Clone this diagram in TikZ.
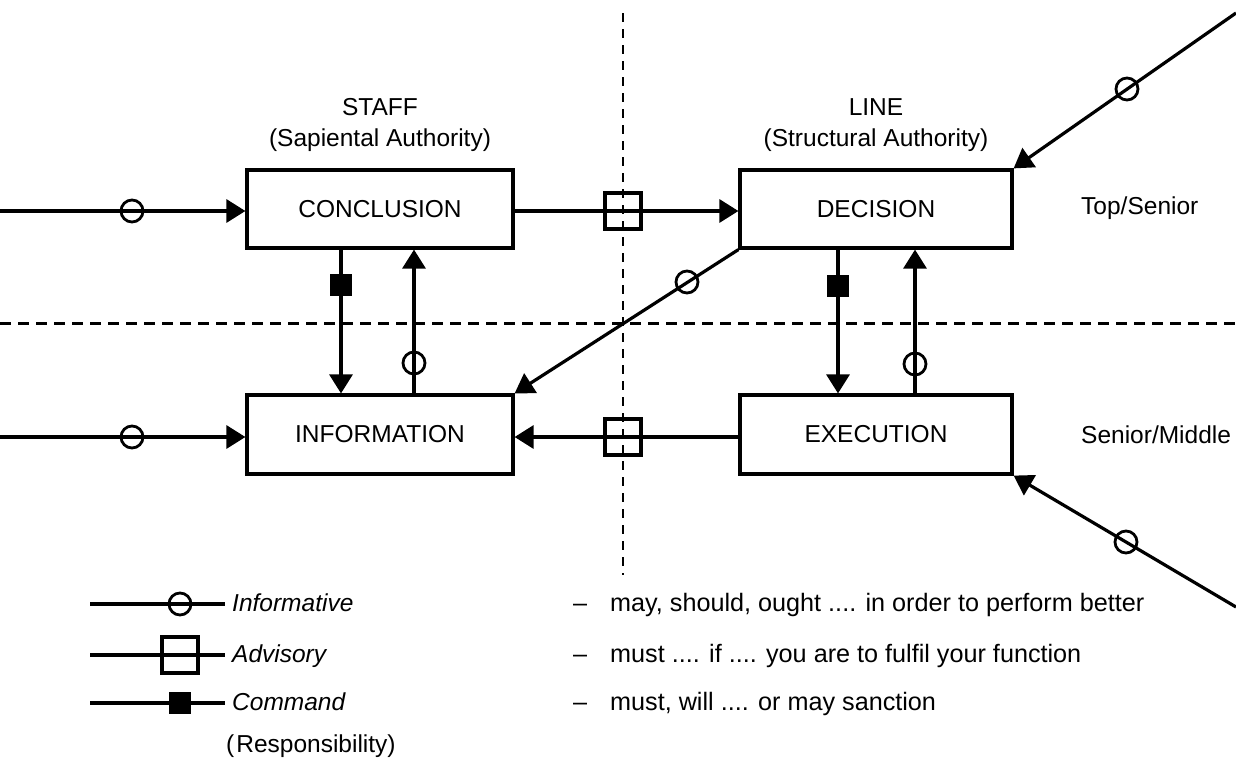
\documentclass[tikz,border=0pt]{standalone}
\usepackage{fontspec}
\setmainfont{Liberation Sans}
\usetikzlibrary{arrows.meta}
\begin{document}
\begin{tikzpicture}[x=1pt,y=-1pt,
  txt/.style={font=\fontsize{24.5}{29}\selectfont,inner sep=0pt},
  desc/.style={font=\fontsize{25.2}{30}\selectfont,inner sep=0pt},
  box/.style={txt,draw,line width=3.2pt,minimum height=78pt},
  conn/.style={line width=3.2pt},
  arr/.style={conn,-{Triangle[length=19pt,width=23pt]}},
  infc/.style={draw,circle,line width=2.8pt,minimum size=22pt,inner sep=0pt},
  advsq/.style={draw,rectangle,line width=3.4pt,minimum size=36pt,inner sep=0pt},
  cmdsq/.style={draw,fill=black,rectangle,line width=1pt,minimum size=21pt,inner sep=0pt},
  dashln/.style={line width=3pt,dash pattern=on 11pt off 7pt},
  vdashln/.style={line width=2.8pt,dash pattern=on 9pt off 7pt}]
\useasboundingbox (0,0) rectangle (1236,771);
% grid lines
\coordinate (vt) at (623,13);
\coordinate (vb) at (623,575);
\coordinate (hl) at (0,323);
\coordinate (hr) at (1236,323);
\draw[vdashln] (vt) -- (vb);
\draw[dashln] (hl) -- (hr);
% titles
\node[txt] (staff) at (380,107) {STAFF};
\node[txt] (staffsub) at (380,140) {(Sapiental Authority)};
\node[txt] (line) at (876,107) {LINE};
\node[txt] (linesub) at (876,140) {(Structural Authority)};
% boxes
\node[box,minimum width=266pt] (conc) at (380,209) {CONCLUSION};
\node[box,minimum width=272pt] (dec) at (876,209) {DECISION};
\node[box,minimum width=266pt,minimum height=79pt] (info) at (380,434.5) {INFORMATION};
\node[box,minimum width=272pt,minimum height=79pt] (exe) at (876,434.5) {EXECUTION};
% levels
\node[txt,anchor=west] (top) at (1081,208) {Top/Senior};
\node[txt,anchor=west] (mid) at (1081,435) {Senior/Middle};
% external inputs
\coordinate (in1) at (0,211);
\coordinate (in2) at (0,437);
\draw[arr] (in1) -- (in1 -| conc.west);
\draw[arr] (in2) -- (in2 -| info.west);
\node[infc] (ci1) at (132,211) {};
\node[infc] (ci2) at (132,437) {};
% horizontal between columns
\coordinate (r1) at (0,211);
\coordinate (r2) at (0,437);
\draw[arr] (r1 -| conc.east) -- (r1 -| dec.west);
\draw[arr] (r2 -| exe.west) -- (r2 -| info.east);
\node[advsq] (a1) at (623,211) {};
\node[advsq] (a2) at (623,437) {};
% vertical links
\coordinate (xs1) at (341,0);
\coordinate (xs2) at (414,0);
\coordinate (xl1) at (838,0);
\coordinate (xl2) at (915,0);
\draw[arr] (xs1 |- conc.south) -- (xs1 |- info.north);
\draw[arr] (xs2 |- info.north) -- (xs2 |- conc.south);
\draw[arr] (xl1 |- dec.south) -- (xl1 |- exe.north);
\draw[arr] (xl2 |- exe.north) -- (xl2 |- dec.south);
\node[cmdsq] (k1) at (341,285) {};
\node[infc] (ci3) at (414,363) {};
\node[cmdsq] (k2) at (838,286) {};
\node[infc] (ci4) at (915,364) {};
% diagonals
\draw[arr] (dec.south west) -- (info.north east);
\node[infc] (ci5) at (687,282) {};
\coordinate (tr) at (1236,13);
\coordinate (br) at (1236,607);
\draw[arr] (tr) -- (dec.north east);
\node[infc] (ci6) at (1127,89) {};
\draw[arr] (br) -- (exe.south east);
\node[infc] (ci7) at (1126,542) {};
% legend
\coordinate (la1) at (90,604);
\coordinate (lb1) at (225,604);
\coordinate (la2) at (90,655);
\coordinate (lb2) at (225,655);
\coordinate (la3) at (90,703);
\coordinate (lb3) at (225,703);
\draw[conn] (la1) -- (lb1);
\draw[conn] (la2) -- (lb2);
\draw[conn] (la3) -- (lb3);
\node[infc] (lci) at (180,604) {};
\node[advsq] (lsq) at (180,655) {};
\node[cmdsq] (lcm) at (180,703) {};
\node[txt,anchor=base west] (t1) at (232,611) {\itshape Informative};
\node[txt,anchor=base west] (t2) at (232,662) {\itshape Advisory};
\node[txt,anchor=base west] (t3) at (232,710) {\itshape Command};
\node[txt,anchor=base west] (t4) at (226,752) {(\kern2pt Responsibility)};
\node[desc,anchor=base] (d1) at (580,611) {--};
\node[desc,anchor=base] (d2) at (580,662) {--};
\node[desc,anchor=base] (d3) at (580,710) {--};
\node[desc,anchor=base west] (m1) at (610,611) {may, should, ought .... in order to perform better};
\node[desc,anchor=base west] (m2) at (610,662) {must .... if .... you are to fulfil your function};
\node[desc,anchor=base west] (m3) at (610,710) {must, will .... or may sanction};
\end{tikzpicture}
\end{document}
